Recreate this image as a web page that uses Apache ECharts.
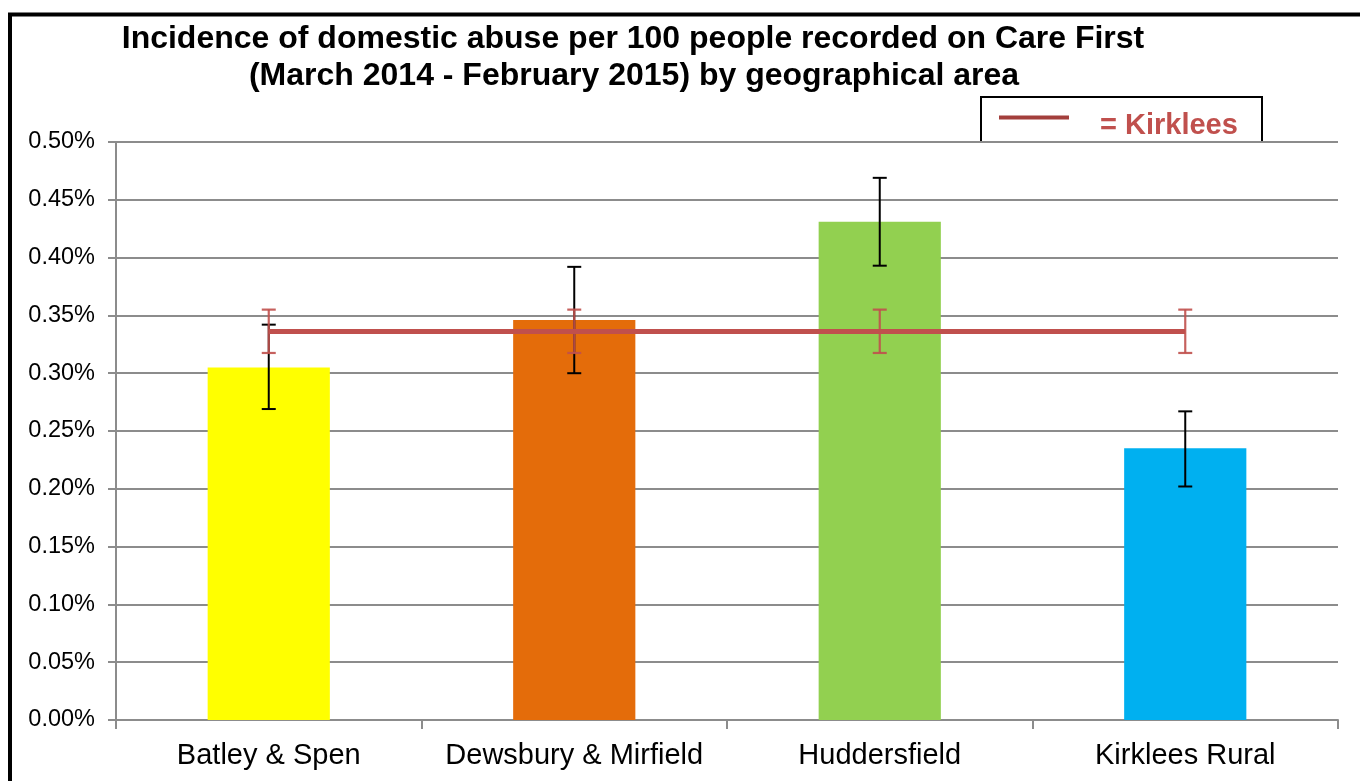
<!DOCTYPE html>
<html>
<head>
<meta charset="utf-8">
<script src="https://cdn.jsdelivr.net/npm/echarts@6/dist/echarts.min.js"></script>
<style>
html,body{margin:0;padding:0;background:#fff;}
#chart{width:1360px;height:781px;}
</style>
</head>
<body>
<div id="chart"></div>
<script>
const categories = ['Batley & Spen', 'Dewsbury & Mirfield', 'Huddersfield', 'Kirklees Rural'];
const values = [0.305, 0.346, 0.431, 0.235];
const errLow = [0.269, 0.300, 0.393, 0.202];
const errHigh = [0.342, 0.392, 0.469, 0.267];
const barColors = ['#ffff00', '#e46c0a', '#92d050', '#00b0f0'];
const kirkleesValue = 0.336;
const kirkleesLow = 0.3175;
const kirkleesHigh = 0.355;
const titleLines = ['Incidence of domestic abuse per 100 people recorded on Care First', '(March 2014 - February 2015) by geographical area'];
const legendLabel = '= Kirklees';

const FONT = '"Liberation Sans", Arial, sans-serif';

function errorRenderer(color, capHalf, width) {
  return function (params, api) {
    const x = api.value(0);
    const lo = api.coord([x, api.value(1)]);
    const hi = api.coord([x, api.value(2)]);
    const style = { stroke: color, lineWidth: width };
    return {
      type: 'group',
      children: [
        { type: 'line', shape: { x1: lo[0], y1: lo[1], x2: hi[0], y2: hi[1] }, style },
        { type: 'line', shape: { x1: lo[0] - capHalf, y1: lo[1], x2: lo[0] + capHalf, y2: lo[1] }, style },
        { type: 'line', shape: { x1: hi[0] - capHalf, y1: hi[1], x2: hi[0] + capHalf, y2: hi[1] }, style }
      ]
    };
  };
}

const chart = echarts.init(document.getElementById('chart'));
chart.setOption({
  animation: false,
  backgroundColor: '#fff',
  grid: { left: 116, right: 22, top: 142, bottom: 61, containLabel: false },
  xAxis: {
    type: 'category',
    data: categories,
    axisLine: { show: true, lineStyle: { color: '#8c8c8c', width: 2 } },
    axisTick: { show: true, interval: 0, length: 9, lineStyle: { color: '#8c8c8c', width: 2 } },
    axisLabel: { interval: 0, color: '#000', fontFamily: FONT, fontSize: 29, margin: 21 },
    splitLine: { show: false }
  },
  yAxis: {
    type: 'value',
    min: 0, max: 0.5, interval: 0.05,
    axisLine: { show: true, lineStyle: { color: '#8c8c8c', width: 2 } },
    axisTick: { show: true, length: 8, lineStyle: { color: '#8c8c8c', width: 2 } },
    axisLabel: { color: '#000', fontFamily: FONT, fontSize: 23.5, margin: 21,
      formatter: v => v.toFixed(2) + '%' },
    splitLine: { show: true, lineStyle: { color: '#8c8c8c', width: 2 } }
  },
  series: [
    {
      type: 'bar',
      data: values.map((v, i) => ({ value: v, itemStyle: { color: barColors[i] } })),
      barWidth: '40%',
      z: 2
    },
    {
      type: 'custom',
      data: categories.map((c, i) => [i, errLow[i], errHigh[i]]),
      encode: { x: 0, y: [1, 2] },
      renderItem: errorRenderer('#000', 7, 2),
      z: 3
    },
    {
      type: 'line',
      data: categories.map(() => kirkleesValue),
      symbol: 'none',
      lineStyle: { color: '#c0504d', width: 5 },
      z: 4
    },
    {
      type: 'custom',
      data: categories.map((c, i) => [i, kirkleesLow, kirkleesHigh]),
      encode: { x: 0, y: [1, 2] },
      renderItem: errorRenderer('rgba(192,80,77,0.9)', 7, 2.2),
      z: 5
    }
  ],
  graphic: [
    { type: 'polyline', shape: { points: [[10, 800], [10, 14.5], [1370, 14.5]] },
      style: { stroke: '#000', lineWidth: 4, fill: null }, z: 10 },
    { type: 'text', x: 633, y: 39, style: { text: titleLines[0], font: 'bold 32px ' + FONT, fill: '#000', textAlign: 'center', textVerticalAlign: 'middle' } },
    { type: 'text', x: 634, y: 76, style: { text: titleLines[1], font: 'bold 32px ' + FONT, fill: '#000', textAlign: 'center', textVerticalAlign: 'middle' } },
    { type: 'polyline', shape: { points: [[981, 142], [981, 97], [1262, 97], [1262, 142]] },
      style: { stroke: '#000', lineWidth: 2, fill: null } },
    { type: 'line', shape: { x1: 999, y1: 117.5, x2: 1069, y2: 117.5 }, style: { stroke: '#a33f3c', lineWidth: 4 } },
    { type: 'text', x: 1100, y: 126, style: { text: legendLabel, font: 'bold 29px ' + FONT, fill: '#c0504d', textAlign: 'left', textVerticalAlign: 'middle' } }
  ]
});
</script>
</body>
</html>
